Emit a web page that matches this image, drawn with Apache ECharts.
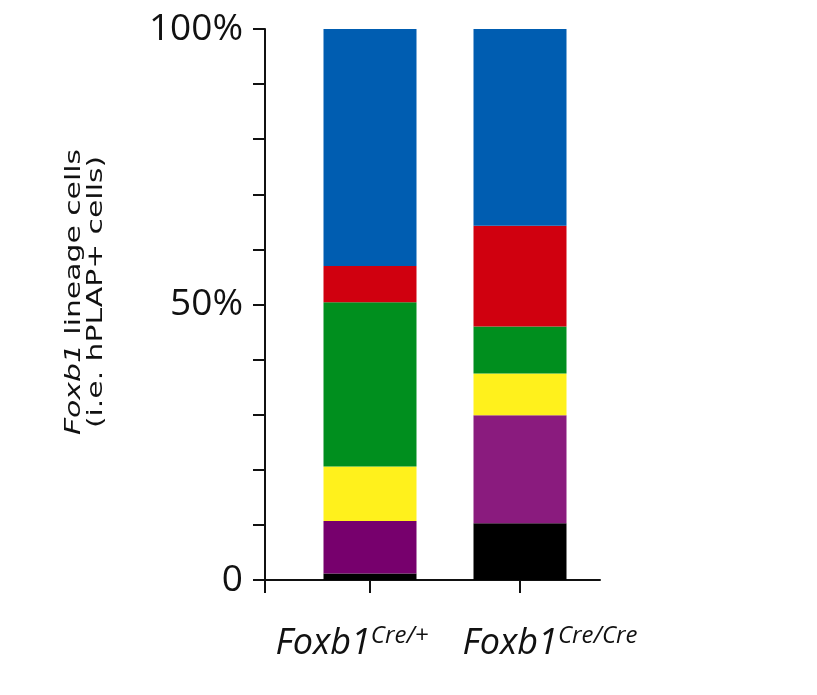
<!DOCTYPE html>
<html>
<head>
<meta charset="utf-8">
<script src="https://cdn.jsdelivr.net/npm/echarts@6/dist/echarts.min.js"></script>
<style>
  html, body { margin: 0; padding: 0; background: #ffffff; }
  #chart { width: 817px; height: 695px; }
</style>
</head>
<body>
<div id="chart"></div>
<script>
// Genotypes (superscript part of the Foxb1 allele label)
const genotypes = ['Cre/+', 'Cre/Cre'];

// Percentage of Foxb1 lineage cells per compartment, stacked bottom to top
const blackShare  = [1.2, 10.3];
const purpleShare = [9.5, 19.6];
const yellowShare = [9.9, 7.6];
const greenShare  = [29.8, 8.5];
const redShare    = [6.6, 18.3];
const blueShare   = [43.0, 35.7];

// Y-axis tick labels (only these ticks carry text)
const yTickValues = [0, 50, 100];
const yTickTexts  = ['0', '50%', '100%'];

const layers = [
  { name: 'black',  values: blackShare,  colors: ['#000000', '#000000'] },
  { name: 'purple', values: purpleShare, colors: ['#77006d', '#8a1b7e'] },
  { name: 'yellow', values: yellowShare, colors: ['#fff11c', '#fff11c'] },
  { name: 'green',  values: greenShare,  colors: ['#008f1e', '#008f1e'] },
  { name: 'red',    values: redShare,    colors: ['#d0000f', '#d0000f'] },
  { name: 'blue',   values: blueShare,   colors: ['#005db1', '#005db1'] }
];

const axisColor = '#111111';
const sansFont = '"Open Sans", "Noto Sans", sans-serif';
const titleFont = '"DejaVu Sans", sans-serif';

const chart = echarts.init(document.getElementById('chart'), null, { renderer: 'canvas' });

chart.setOption({
  backgroundColor: '#ffffff',
  animation: false,
  grid: [
    // plotting area for the two stacked columns
    { left: 295, right: 222, top: 29, bottom: 115, outerBoundsMode: 'none' },
    // full-width frame that carries the baseline from the y axis to the right end
    { left: 265, right: 217, top: 29, bottom: 115, outerBoundsMode: 'none' }
  ],
  xAxis: [
    {
      type: 'category',
      gridIndex: 0,
      data: genotypes,
      boundaryGap: true,
      splitLine: { show: false },
      axisLine: { show: false },
      axisTick: {
        show: true,
        alignWithLabel: true,
        length: 13,
        lineStyle: { color: axisColor, width: 2 }
      },
      axisLabel: {
        show: true,
        interval: 0,
        margin: 44,
        formatter: function (g, i) {
          return i === 0
            ? '{f0|Foxb1}{s0|' + g + '}'
            : '{f1|Foxb1}{s1|' + g + '}';
        },
        rich: {
          f0: { fontFamily: sansFont, fontStyle: 'italic', fontSize: 36, color: axisColor, lineHeight: 40 },
          s0: { fontFamily: sansFont, fontStyle: 'italic', fontSize: 24, color: axisColor, lineHeight: 26,
                verticalAlign: 'top', padding: [0, 36, 0, 0] },
          f1: { fontFamily: sansFont, fontStyle: 'italic', fontSize: 36, color: axisColor, lineHeight: 40,
                padding: [0, 0, 0, 60] },
          s1: { fontFamily: sansFont, fontStyle: 'italic', fontSize: 24, color: axisColor, lineHeight: 26,
                verticalAlign: 'top' }
        }
      }
    },
    {
      type: 'value',
      gridIndex: 1,
      min: 0,
      max: 1,
      splitLine: { show: false },
      axisLine: { show: true, onZero: false, lineStyle: { color: axisColor, width: 2 } },
      axisTick: { show: true, customValues: [0], length: 13, lineStyle: { color: axisColor, width: 2 } },
      axisLabel: { show: false }
    }
  ],
  yAxis: [
    {
      type: 'value',
      gridIndex: 0,
      min: 0,
      max: 100,
      interval: 10,
      offset: 30,
      splitLine: { show: false },
      axisLine: { show: true, lineStyle: { color: axisColor, width: 2 } },
      axisTick: { show: true, length: 12, lineStyle: { color: axisColor, width: 2 } },
      axisLabel: {
        margin: 22,
        fontFamily: sansFont,
        fontSize: 37,
        color: axisColor,
        formatter: function (v) {
          const k = yTickValues.indexOf(Math.round(v));
          return k >= 0 ? yTickTexts[k] : '';
        }
      }
    },
    {
      type: 'value',
      gridIndex: 1,
      min: 0,
      max: 100,
      show: false
    }
  ],
  graphic: [
    {
      // y-axis title, set vertically and stretched along its reading direction
      type: 'text',
      x: 86,
      y: 292,
      rotation: Math.PI / 2,
      scaleX: 1.42,
      silent: true,
      style: {
        text: '{i|Foxb1} lineage cells\n(i.e. hPLAP+ cells)',
        align: 'center',
        verticalAlign: 'middle',
        fontFamily: titleFont,
        fontSize: 21,
        lineHeight: 22,
        fill: axisColor,
        rich: {
          i: { fontFamily: titleFont, fontStyle: 'italic', fontSize: 21, lineHeight: 22, fill: axisColor }
        }
      }
    }
  ],
  series: layers.map(function (layer) {
    return {
      name: layer.name,
      type: 'bar',
      xAxisIndex: 0,
      yAxisIndex: 0,
      stack: 'share',
      barWidth: 93,
      silent: true,
      data: layer.values.map(function (v, i) {
        return { value: v, itemStyle: { color: layer.colors[i] } };
      })
    };
  })
});
</script>
</body>
</html>
